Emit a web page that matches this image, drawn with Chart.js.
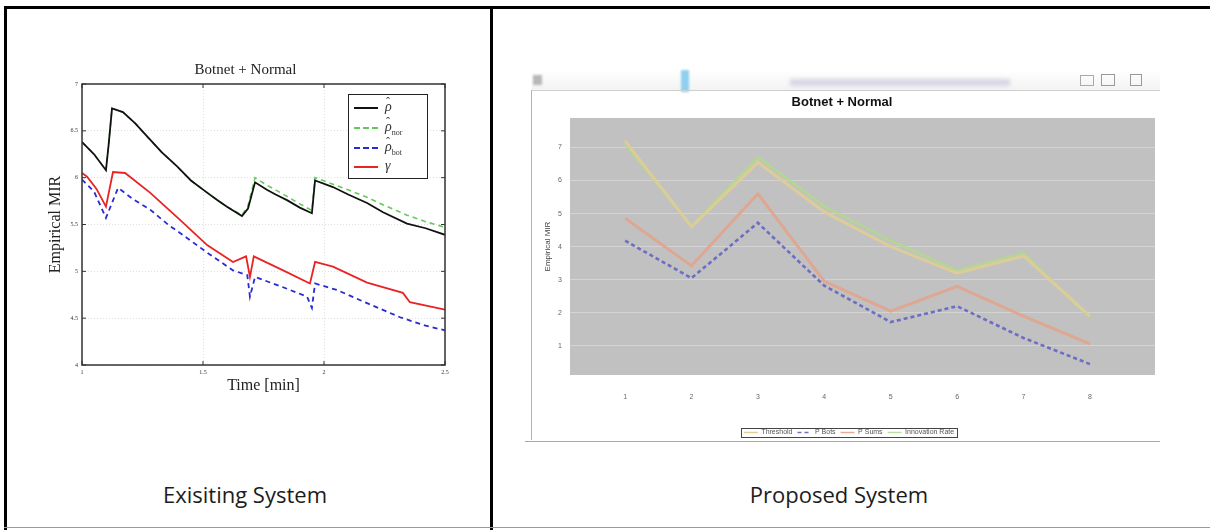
<!DOCTYPE html>
<html>
<head>
<meta charset="utf-8">
<script src="https://cdn.jsdelivr.net/npm/chart.js@4.4.1/dist/chart.umd.min.js"></script>
<style>
  html, body { margin: 0; padding: 0; background: #fff; }
  body { width: 1210px; height: 530px; position: relative; overflow: hidden; font-family: "Open Sans", "Noto Sans", sans-serif; }
  .abs { position: absolute; }
  .bar { position: absolute; background: #000; }
  .caption { position: absolute; top: 480px; width: 300px; text-align: center; font-size: 22px; color: #1c1c1c; line-height: 28px; }
  #leftLegend { position: absolute; left: 348px; top: 94px; width: 78px; height: 83px; border: 1.5px solid #222; background: #fff;
    font-family: "Liberation Serif", serif; font-style: italic; font-size: 14px; color: #333; }
  #leftLegend .row { position: absolute; left: 0; height: 20px; width: 100%; }
  #leftLegend .sample { position: absolute; left: 5px; top: 10px; width: 24px; height: 0; }
  #leftLegend .lbl { position: absolute; left: 36px; top: 1px; line-height: 18px; }
  #leftLegend sub { font-size: 8px; font-style: normal; }
  .hat { position: relative; }
  .hat::after { content: "\02C6"; position: absolute; left: 1px; top: -6px; font-size: 12px; font-style: normal; }
  .win { position: absolute; }
  #rightTitle { position: absolute; left: 742px; top: 94px; width: 200px; text-align: center;
    font-family: "Liberation Sans", sans-serif; font-weight: bold; font-size: 13px; color: #111; }
</style>
</head>
<body>

<!-- table frame -->
<div class="bar" style="left:4px; top:6px; width:1206px; height:3px;"></div>
<div class="bar" style="left:4px; top:6px; width:3px; height:524px;"></div>
<div class="bar" style="left:490px; top:6px; width:3px; height:524px;"></div>
<div class="abs" style="left:4px; top:527px; width:1206px; height:1px; background:#9a9a9a;"></div>

<!-- left: existing system -->
<canvas id="leftChart" class="abs" style="left:20px; top:55px;" width="440" height="350"></canvas>
<div id="leftLegend">
  <div class="row" style="top:2px;"><div class="sample" style="border-top:2px solid #111;"></div><span class="lbl"><span class="hat">ρ</span></span></div>
  <div class="row" style="top:22px;"><div class="sample" style="border-top:2px dashed #66c85a;"></div><span class="lbl"><span class="hat">ρ</span><sub>nor</sub></span></div>
  <div class="row" style="top:42px;"><div class="sample" style="border-top:2px dashed #2a2ad2;"></div><span class="lbl"><span class="hat">ρ</span><sub>bot</sub></span></div>
  <div class="row" style="top:61px;"><div class="sample" style="border-top:2px solid #e82424;"></div><span class="lbl">γ</span></div>
</div>
<div class="caption" style="left:95px;">Exisiting System</div>

<!-- right: proposed system, window chrome -->
<div class="win" style="left:532px; top:70px; width:628px; height:20px; background:linear-gradient(#ffffff,#f3f3f3);"></div>
<div class="win" style="left:533px; top:75px; width:9px; height:10px; background:#b8b8b8; filter:blur(1px);"></div>
<div class="win" style="left:681px; top:70px; width:8px; height:22px; background:#8fd0f0; filter:blur(1.2px);"></div>
<div class="win" style="left:790px; top:79px; width:220px; height:7px; background:#c9c6dc; filter:blur(2px); opacity:0.7;"></div>
<div class="win" style="left:1080px; top:75px; width:12px; height:9px; border:1px solid #aaa; filter:blur(0.6px);"></div>
<div class="win" style="left:1101px; top:74px; width:12px; height:10px; border:1px solid #999; filter:blur(0.6px);"></div>
<div class="win" style="left:1130px; top:74px; width:10px; height:10px; border:1px solid #999; filter:blur(0.6px);"></div>
<div class="win" style="left:532px; top:90px; width:628px; height:1px; background:#cfcfcf;"></div>
<div class="win" style="left:531px; top:90px; width:1px; height:350px; background:#b4b4b4;"></div>

<canvas id="rightChart" class="abs" style="left:534px; top:92px;" width="626" height="358"></canvas>
<div id="rightTitle">Botnet + Normal</div>
<div class="win" style="left:525px; top:441px; width:635px; height:1px; background:#a8a8a8;"></div>
<div class="caption" style="left:689px;">Proposed System</div>

<script>
// ---- Existing system (left) ----
const leftXTicks = [1, 1.5, 2, 2.5];
const leftYTicks = [4, 4.5, 5, 5.5, 6, 6.5, 7];

const rhoTime = [1.0, 1.05, 1.099, 1.11, 1.124, 1.169, 1.22, 1.269, 1.33, 1.393, 1.45, 1.517, 1.56, 1.599, 1.661,
  1.686, 1.715, 1.764, 1.80, 1.847, 1.90, 1.950, 1.963, 2.037, 2.10, 2.178, 2.244, 2.343, 2.42, 2.5];
const rhoVals = [6.38, 6.25, 6.08, 6.35, 6.74, 6.70, 6.58, 6.44, 6.27, 6.12, 5.97, 5.84, 5.76, 5.69, 5.59,
  5.67, 5.95, 5.87, 5.82, 5.76, 5.68, 5.62, 5.97, 5.90, 5.82, 5.73, 5.63, 5.51, 5.46, 5.39];
const rhoNorVals = [6.38, 6.25, 6.08, 6.35, 6.74, 6.70, 6.58, 6.44, 6.27, 6.12, 5.97, 5.84, 5.76, 5.69, 5.60,
  5.70, 6.00, 5.92, 5.87, 5.80, 5.72, 5.65, 6.00, 5.93, 5.87, 5.79, 5.71, 5.60, 5.53, 5.47];

const botTime = [1.0, 1.05, 1.099, 1.149, 1.16, 1.211, 1.281, 1.36, 1.405, 1.517, 1.624, 1.683, 1.694, 1.715,
  1.831, 1.930, 1.950, 1.963, 2.054, 2.178, 2.314, 2.42, 2.5];
const botVals = [5.98, 5.85, 5.57, 5.89, 5.87, 5.77, 5.66, 5.49, 5.41, 5.20, 5.01, 4.96, 4.73, 4.94,
  4.83, 4.73, 4.61, 4.87, 4.80, 4.66, 4.51, 4.42, 4.37];

const gammaTime = [1.0, 1.021, 1.06, 1.099, 1.128, 1.178, 1.281, 1.405, 1.517, 1.624, 1.678, 1.694, 1.71,
  1.831, 1.942, 1.963, 2.037, 2.178, 2.326, 2.355, 2.5];
const gammaVals = [6.05, 6.01, 5.88, 5.69, 6.06, 6.05, 5.84, 5.55, 5.28, 5.10, 5.16, 4.94, 5.16,
  5.01, 4.87, 5.10, 5.05, 4.88, 4.77, 4.67, 4.59];

// ---- Proposed system (right) ----
const runs = [1, 2, 3, 4, 5, 6, 7, 8];
const rightYTicks = [1, 2, 3, 4, 5, 6, 7];
const thresholdVals = [7.2, 4.6, 6.55, 5.05, 4.0, 3.2, 3.72, 1.9];
const pBotsVals = [4.18, 3.05, 4.72, 2.82, 1.72, 2.2, 1.24, 0.45];
const pSumsVals = [4.86, 3.42, 5.6, 2.95, 2.05, 2.8, 1.9, 1.06];
const innovationVals = [7.1, 4.62, 6.7, 5.22, 4.18, 3.28, 3.8, 1.86];

const toXY = (xs, ys) => xs.map((x, i) => ({ x: x, y: ys[i] }));
const serif = 'Liberation Serif';
const sans = 'Liberation Sans';

// inward ticks on all four sides plus the axes frame (matplotlib look)
const innerTicks = {
  id: 'innerTicks',
  afterDatasetsDraw(chart, args, opts) {
    if (!opts.len) return;
    const { ctx, chartArea: a, scales: { x, y } } = chart;
    ctx.save();
    ctx.strokeStyle = opts.color;
    ctx.lineWidth = 1;
    ctx.beginPath();
    x.ticks.forEach(t => {
      const px = x.getPixelForValue(t.value);
      ctx.moveTo(px, a.bottom); ctx.lineTo(px, a.bottom - opts.len);
      ctx.moveTo(px, a.top); ctx.lineTo(px, a.top + opts.len);
    });
    y.ticks.forEach(t => {
      const py = y.getPixelForValue(t.value);
      ctx.moveTo(a.left, py); ctx.lineTo(a.left + opts.len, py);
      ctx.moveTo(a.right, py); ctx.lineTo(a.right - opts.len, py);
    });
    ctx.stroke();
    ctx.lineWidth = opts.frame;
    ctx.strokeRect(a.left, a.top, a.right - a.left, a.bottom - a.top);
    ctx.restore();
  }
};

// grey plot background (JFreeChart style)
const plotBackground = {
  id: 'plotBackground',
  beforeDraw(chart, args, opts) {
    if (!opts.color) return;
    const { ctx, chartArea: a } = chart;
    ctx.save();
    ctx.fillStyle = opts.color;
    ctx.fillRect(a.left, a.top, a.right - a.left, a.bottom - a.top);
    ctx.restore();
  }
};

// box around the legend items
const legendFrame = {
  id: 'legendFrame',
  afterDraw(chart, args, opts) {
    const lg = chart.legend;
    if (!opts.color || !lg || !lg.legendHitBoxes || !lg.legendHitBoxes.length) return;
    const b = lg.legendHitBoxes;
    const l = Math.min(...b.map(h => h.left)) - opts.padX;
    const r = Math.max(...b.map(h => h.left + h.width)) + opts.padX;
    const t = Math.min(...b.map(h => h.top)) - opts.padY;
    const btm = Math.max(...b.map(h => h.top + h.height)) + opts.padY;
    const ctx = chart.ctx;
    ctx.save();
    ctx.strokeStyle = opts.color;
    ctx.lineWidth = 1;
    ctx.strokeRect(Math.round(l) + 0.5, Math.round(t) + 0.5, Math.round(r - l), Math.round(btm - t));
    ctx.restore();
  }
};

Chart.register(innerTicks, plotBackground, legendFrame);

new Chart(document.getElementById('leftChart'), {
  type: 'line',
  data: {
    datasets: [
      { label: 'rho', data: toXY(rhoTime, rhoVals), borderColor: '#111111', borderWidth: 1.8 },
      { label: 'rho nor', data: toXY(rhoTime, rhoNorVals), borderColor: '#66c85a', borderWidth: 1.6, borderDash: [5, 4] },
      { label: 'rho bot', data: toXY(botTime, botVals), borderColor: '#2a2ad2', borderWidth: 1.8, borderDash: [5, 4] },
      { label: 'gamma', data: toXY(gammaTime, gammaVals), borderColor: '#e82424', borderWidth: 1.8 }
    ]
  },
  options: {
    animation: false,
    responsive: false,
    elements: { point: { radius: 0 }, line: { tension: 0 } },
    layout: { padding: { left: 26, right: 15, top: 0, bottom: 10 } },
    plugins: {
      legend: { display: false },
      tooltip: { enabled: false },
      title: { display: true, text: 'Botnet + Normal', color: '#222', font: { family: serif, size: 15, weight: 'normal' }, padding: { top: 6, bottom: 5 } },
      innerTicks: { len: 4, color: '#333', frame: 1.5 },
      plotBackground: { color: null },
      legendFrame: { color: null }
    },
    scales: {
      x: {
        type: 'linear', min: 1, max: 2.5,
        afterBuildTicks: s => { s.ticks = leftXTicks.map(v => ({ value: v })); },
        afterFit: s => { s.height = 30; },
        ticks: { color: '#333', font: { family: serif, size: 6 }, padding: 4, callback: v => String(v) },
        grid: { color: 'rgba(0,0,0,0.12)', drawTicks: false },
        border: { display: false, dash: [1, 2] },
        title: { display: true, text: 'Time [min]', color: '#222', font: { family: serif, size: 16 }, padding: 0 }
      },
      y: {
        min: 4, max: 7,
        afterBuildTicks: s => { s.ticks = leftYTicks.map(v => ({ value: v })); },
        afterFit: s => { s.width = 36; },
        ticks: { color: '#333', font: { family: serif, size: 6 }, padding: 4, callback: v => String(v) },
        grid: { color: 'rgba(0,0,0,0.12)', drawTicks: false },
        border: { display: false, dash: [1, 2] },
        title: { display: true, text: 'Empirical MIR', color: '#222', font: { family: serif, size: 16 }, padding: 0 }
      }
    }
  }
});

new Chart(document.getElementById('rightChart'), {
  type: 'line',
  data: {
    datasets: [
      { label: 'Threshold', data: toXY(runs, thresholdVals), borderColor: 'rgba(222,204,152,0.95)', borderWidth: 3, order: 0 },
      { label: 'P Bots', data: toXY(runs, pBotsVals), borderColor: 'rgba(104,104,196,0.95)', borderWidth: 2.6, borderDash: [4, 3], order: 1 },
      { label: 'P Sums', data: toXY(runs, pSumsVals), borderColor: 'rgba(226,164,140,0.9)', borderWidth: 3, order: 1 },
      { label: 'Innovation Rate', data: toXY(runs, innovationVals), borderColor: 'rgba(180,214,146,0.85)', borderWidth: 3, order: 1 }
    ]
  },
  options: {
    animation: false,
    responsive: false,
    elements: { point: { radius: 0 }, line: { tension: 0 } },
    layout: { padding: { left: 9, right: 5, top: 26, bottom: 4 } },
    plugins: {
      title: { display: false },
      tooltip: { enabled: false },
      legend: {
        position: 'bottom',
        labels: {
          font: { family: sans, size: 7 }, color: '#555', padding: 5,
          usePointStyle: true, pointStyle: 'line', pointStyleWidth: 14, boxHeight: 7,
          generateLabels: chart => chart.data.datasets.map((ds, i) => ({
            text: ds.label, datasetIndex: i, hidden: false, pointStyle: 'line',
            fillStyle: ds.borderColor, strokeStyle: ds.borderColor, lineWidth: 1.5,
            lineDash: ds.borderDash || [], fontColor: '#555'
          }))
        }
      },
      innerTicks: { len: 0 },
      plotBackground: { color: '#c1c1c1' },
      legendFrame: { color: '#444', padX: 3, padY: 1 }
    },
    scales: {
      x: {
        type: 'linear', min: 0.17, max: 8.98,
        afterBuildTicks: s => { s.ticks = runs.map(v => ({ value: v })); },
        afterFit: s => { s.height = 49; },
        ticks: { color: '#666', font: { family: sans, size: 7 }, padding: 10, callback: v => String(v) },
        grid: { display: false },
        border: { display: false }
      },
      y: {
        min: 0.12, max: 7.89,
        afterBuildTicks: s => { s.ticks = rightYTicks.map(v => ({ value: v })); },
        afterFit: s => { s.width = 27; },
        ticks: { color: '#666', font: { family: sans, size: 7 }, padding: 8, callback: v => String(v) },
        grid: { color: 'rgba(255,255,255,0.3)', drawTicks: false },
        border: { display: false },
        title: { display: true, text: 'Empirical MIR', color: '#444', font: { family: sans, size: 8 }, padding: 0 }
      }
    }
  }
});
</script>
</body>
</html>
